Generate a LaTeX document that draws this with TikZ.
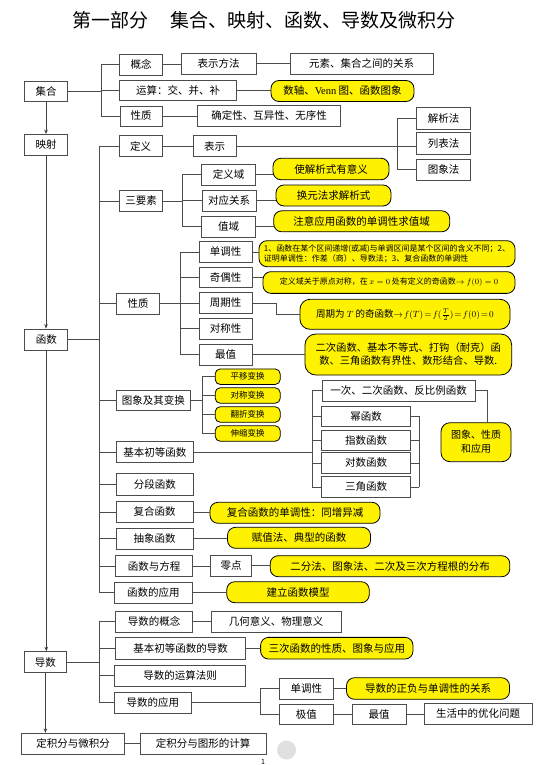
\documentclass[tikz,border=0pt]{standalone}
\usepackage{fontspec}
\setmainfont{Noto Sans CJK SC}
\newfontfamily\lat{Liberation Serif}
\usetikzlibrary{arrows.meta}
\begin{document}
\begin{tikzpicture}[x=1pt,y=-1pt,
  bx/.style={draw=black!70, line width=0.8pt, fill=white, inner sep=0pt, minimum height=21pt, font=\fontsize{10.5}{12}\selectfont},
  yb/.style={bx, draw=black, fill=yellow, rounded corners=8pt},
  ys/.style={bx, draw=black, fill=yellow, rounded corners=5pt, minimum height=15.5pt, minimum width=65pt, font=\fontsize{8.5}{10}\selectfont},
  ln/.style={draw=black!70, line width=0.7pt, line cap=rect},
  arr/.style={draw=black!75, line width=0.7pt, -{Stealth[length=4.5pt,width=3.5pt]}}]
\useasboundingbox (0,0) rectangle (553,765);
\node[font=\fontsize{19}{22}\selectfont, inner sep=0] (title) at (264,20) {第一部分\hspace{1.2em}集合、映射、函数、导数及微积分};

% ---- 集合
\node[bx, minimum width=43pt, minimum height=20pt] (jihe) at (46,91) {集合};
\node[bx, minimum width=43pt] (gainian) at (141,64.7) {概念};
\node[bx, minimum width=75pt] (bsff) at (218.5,63.7) {表示方法};
\node[bx, minimum width=143pt] (guanxi) at (361.5,63.7) {元素、集合之间的关系};
\node[bx, minimum width=117pt, minimum height=20pt] (yunsuan) at (178,90) {运算：交、并、补};
\node[yb, minimum width=143pt] (shuzhou) at (342.5,91) {数轴、{\lat Venn} 图、函数图象};
\node[bx, minimum width=42pt, minimum height=20pt] (xz1) at (141,116) {性质};
\node[bx, minimum width=143.5pt] (qdx) at (269,115.5) {确定性、互异性、无序性};

% ---- 映射 / 函数
\node[bx, minimum width=43pt] (yingshe) at (46,145) {映射};
\node[bx, minimum width=43pt] (dingyi) at (140.5,146.3) {定义};
\node[bx, minimum width=43pt] (biaoshi) at (214.5,146.3) {表示};
\node[bx, minimum width=54pt, minimum height=21.5pt] (jxf) at (443.5,118.2) {解析法};
\node[bx, minimum width=54pt, minimum height=21.5pt] (lbf) at (443.5,143.5) {列表法};
\node[bx, minimum width=54pt] (txf) at (443.5,169.7) {图象法};
\node[bx, minimum width=43pt, minimum height=20.5pt] (sys) at (141,201) {三要素};
\node[bx, minimum width=54pt] (dyy) at (228.5,174.7) {定义域};
\node[bx, minimum width=54pt] (dygx) at (229,200.5) {对应关系};
\node[bx, minimum width=54pt] (zy) at (228.5,226.7) {值域};
\node[yb, minimum width=116pt, minimum height=21.5pt] (n1) at (331,169) {使解析式有意义};
\node[yb, minimum width=115pt] (n2) at (333.5,195.5) {换元法求解析式};
\node[yb, minimum width=176pt] (n3) at (361.7,221.3) {注意应用函数的单调性求值域};

\node[bx, minimum width=43pt] (hanshu) at (46.3,339.5) {函数};
\node[bx, minimum width=42.6pt] (xz2) at (138,303.7) {性质};
\node[bx, minimum width=53pt] (ddx) at (225.7,252) {单调性};
\node[bx, minimum width=53pt, minimum height=20pt] (qox) at (225.7,277.5) {奇偶性};
\node[bx, minimum width=53pt] (zqx) at (225.7,303) {周期性};
\node[bx, minimum width=53pt] (dcx) at (225.7,328.7) {对称性};
\node[bx, minimum width=53pt] (zz) at (225.7,354.7) {最值};
\node[yb, minimum width=256pt, minimum height=26pt, align=left, font=\fontsize{8}{10}\selectfont] (m1) at (387,253.7) {1、函数在某个区间递增(或减)与单调区间是某个区间的含义不同；2、\\证明单调性：作差（商）、导数法；3、复合函数的单调性};
\node[yb, minimum width=252pt, minimum height=21.7pt, font=\fontsize{8}{10}\selectfont] (m2) at (389,282.5) {定义域关于原点对称，在 $x=0$ 处有定义的奇函数$\to f(0)=0$};
\node[yb, minimum width=210pt, minimum height=30pt, rounded corners=10pt, font=\fontsize{9.5}{12}\selectfont] (m3) at (405,314.3) {\thickmuskip=2mu\medmuskip=1mu周期为 $T$ 的奇函数$\to f(T)=f(\frac{T}{2})=f(0)=0$};
\node[yb, minimum width=206.7pt, minimum height=41pt, rounded corners=11pt, align=center, font=\fontsize{10.3}{13}\selectfont] (m4) at (408.3,354.5) {二次函数、基本不等式、打钩（耐克）函\\数、三角函数有界性、数形结合、导数.};

\node[bx, minimum width=74.5pt, minimum height=20.7pt] (txbh) at (153.3,400.3) {图象及其变换};
\node[ys] (py) at (247.7,376.7) {平移变换};
\node[ys] (dc) at (247.7,395.5) {对称变换};
\node[ys] (fz) at (247.7,414.5) {翻折变换};
\node[ys] (ss) at (247.7,433.5) {伸缩变换};
\node[bx, minimum width=77pt] (jbcd) at (154.8,452) {基本初等函数};
\node[bx, minimum width=153pt, minimum height=20.3pt] (yc) at (398.5,390.8) {一次、二次函数、反比例函数};
\node[bx, minimum width=88.7pt, minimum height=20.7pt] (mi) at (366,416.3) {幂函数};
\node[bx, minimum width=88.7pt, minimum height=20.7pt] (zs) at (366,440.3) {指数函数};
\node[bx, minimum width=88.7pt, minimum height=20.7pt] (ds) at (366,463) {对数函数};
\node[bx, minimum width=88.7pt, minimum height=20.7pt] (sj) at (366,487) {三角函数};
\node[yb, minimum width=70pt, minimum height=39pt, rounded corners=9pt, align=center, font=\fontsize{10}{14}\selectfont] (txxz) at (476,442.2) {图象、性质\\和应用};
\node[bx, minimum width=77pt, minimum height=21.5pt] (fd) at (154.8,484.2) {分段函数};
\node[bx, minimum width=77pt, minimum height=20.6pt] (fh) at (154.6,512) {复合函数};
\node[yb, minimum width=170pt] (fhn) at (295,512.8) {复合函数的单调性：同增异减};
\node[bx, minimum width=77pt, minimum height=20.7pt] (cx) at (154.6,538.7) {抽象函数};
\node[yb, minimum width=143pt] (fzf) at (299,537.8) {赋值法、典型的函数};
\node[bx, minimum width=77.4pt] (hsfc) at (154,566.2) {函数与方程};
\node[bx, minimum width=41.5pt] (ld) at (231,565.5) {零点};
\node[yb, minimum width=239.6pt] (efd) at (390,566.2) {二分法、图象法、二次及三次方程根的分布};
\node[bx, minimum width=78.4pt] (hsyy) at (153.4,592.8) {函数的应用};
\node[yb, minimum width=142.5pt] (jlmx) at (298,592.2) {建立函数模型};

% ---- 导数
\node[bx, minimum width=42.7pt] (daoshu) at (45.4,662.2) {导数};
\node[bx, minimum width=77.4pt, minimum height=21.3pt] (dsgn) at (154,621.7) {导数的概念};
\node[bx, minimum width=130pt, minimum height=21.3pt] (jhyy) at (276,621.7) {几何意义、物理意义};
\node[bx, minimum width=130.5pt, minimum height=21.3pt] (jbds) at (180.5,648.3) {基本初等函数的导数};
\node[yb, minimum width=152.4pt, minimum height=21.7pt] (sch) at (336.8,648.2) {三次函数的性质、图象与应用};
\node[bx, minimum width=131.5pt, minimum height=21.7pt] (ysfz) at (180,675.8) {导数的运算法则};
\node[bx, minimum width=77.3pt] (dsyy) at (152.8,702.8) {导数的应用};
\node[bx, minimum width=54pt] (ddx2) at (306.4,688.8) {单调性};
\node[yb, minimum width=163pt, minimum height=21.6pt] (zfgx) at (428,688.5) {导数的正负与单调性的关系};
\node[bx, minimum width=54pt, minimum height=20.3pt] (jz) at (306.4,714.2) {极值};
\node[bx, minimum width=54pt, minimum height=20.3pt] (zz2) at (379,714.2) {最值};
\node[bx, minimum width=108pt, minimum height=20.7pt] (shyh) at (478,713.7) {生活中的优化问题};
\node[bx, minimum width=103.5pt] (djf) at (73,743.8) {定积分与微积分};
\node[bx, minimum width=126pt] (djtx) at (203,743.8) {定积分与图形的计算};

\node[circle, fill=black!12, minimum size=19pt, inner sep=0pt] (dot) at (286.5,750) {};
\node[font=\fontsize{7}{8}\selectfont, inner sep=0pt, anchor=north] (pg) at (263,759.5) {1};

% ---- vertical arrows
\draw[arr] (jihe.south) -- (jihe.south |- yingshe.north);
\draw[arr] (yingshe.south) -- (yingshe.south |- hanshu.north);
\draw[arr] (hanshu.south) -- (hanshu.south |- daoshu.north);
\draw[arr] (daoshu.south) -- (daoshu.south |- djf.north);

% ---- brackets
\coordinate (xA) at (101,0);
\draw[ln] (jihe.east) -- (xA |- jihe.east);
\draw[ln] (xA |- gainian.west) -- (xA |- xz1.west);
\foreach \n in {gainian,yunsuan,xz1} \draw[ln] (\n.west) -- (xA |- \n.west);

\coordinate (xB) at (99.3,0);
\draw[ln] (hanshu.east) -- (xB |- hanshu.east);
\draw[ln] (xB |- dingyi.west) -- (xB |- hsyy.west);
\foreach \n in {dingyi,sys,xz2,txbh,jbcd,fd,fh,cx,hsfc,hsyy} \draw[ln] (\n.west) -- (xB |- \n.west);

\coordinate (xC) at (397.5,0);
\draw[ln] (biaoshi.east) -- (biaoshi.east -| lbf.west);
\draw[ln] (xC |- jxf.west) -- (xC |- txf.west);
\foreach \n in {jxf,txf} \draw[ln] (\n.west) -- (xC |- \n.west);

\coordinate (xD) at (182.6,0);
\draw[ln] (sys.east) -- (xD |- sys.east);
\draw[ln] (xD |- dyy.west) -- (xD |- zy.west);
\foreach \n in {dyy,dygx,zy} \draw[ln] (\n.west) -- (xD |- \n.west);

\coordinate (xE) at (180,0);
\draw[ln] (xz2.east) -- (xE |- xz2.east);
\draw[ln] (xE |- ddx.west) -- (xE |- zz.west);
\foreach \n in {ddx,qox,zqx,dcx,zz} \draw[ln] (\n.west) -- (xE |- \n.west);

\coordinate (xF) at (202.3,0);
\draw[ln] (txbh.east) -- (xF |- txbh.east);
\draw[ln] (xF |- py.west) -- (xF |- ss.west);
\foreach \n in {py,dc,fz,ss} \draw[ln] (\n.west) -- (xF |- \n.west);

\coordinate (xG) at (312.8,0);
\draw[ln] (jbcd.east) -- (xG |- jbcd.east);
\draw[ln] (xG |- yc.west) -- (xG |- sj.west);
\foreach \n in {yc,mi,zs,ds,sj} \draw[ln] (\n.west) -- (xG |- \n.west);

\coordinate (xH) at (419,0);
\draw[ln] (xH |- mi.east) -- (xH |- sj.east);
\foreach \n in {mi,zs,ds,sj} \draw[ln] (\n.east) -- (xH |- \n.east);

\coordinate (xK) at (487,0);
\draw[ln] (yc.east) -- (xK |- yc.east) -- (xK |- txxz.north);

\coordinate (xI) at (99.3,0);
\draw[ln] (daoshu.east) -- (xI |- daoshu.east);
\draw[ln] (xI |- dsgn.west) -- (xI |- dsyy.west);
\foreach \n in {dsgn,jbds,ysfz,dsyy} \draw[ln] (\n.west) -- (xI |- \n.west);

\coordinate (xJ) at (260.6,0);
\draw[ln] (dsyy.east) -- (xJ |- dsyy.east);
\draw[ln] (xJ |- ddx2.west) -- (xJ |- jz.west);
\foreach \n in {ddx2,jz} \draw[ln] (\n.west) -- (xJ |- \n.west);

% ---- simple links
\draw[ln] (gainian.east) -- (gainian.east -| bsff.west);
\draw[ln] (bsff.east) -- (bsff.east -| guanxi.west);
\draw[ln] (yunsuan.east) -- (yunsuan.east -| shuzhou.west);
\draw[ln] (xz1.east) -- (xz1.east -| qdx.west);
\draw[ln] (dingyi.east) -- (dingyi.east -| biaoshi.west);
\draw[ln] (dyy.east) -- (dyy.east -| n1.west);
\draw[ln] (dygx.east) -- (dygx.east -| n2.west);
\draw[ln] (zy.east) -- (zy.east -| n3.west);
\draw[ln] (ddx.east) -- (ddx.east -| m1.west);
\draw[ln] (qox.east) -- (qox.east -| m2.west);
\coordinate (zqk) at (276.7,0);
\draw[ln] (zqx.east) -- (zqk |- zqx.east) -- (zqk |- m3.west) -- (m3.west);
\draw[ln] (zz.east) -- (zz.east -| m4.west);
\draw[ln] (fh.east) -- (fh.east -| fhn.west);
\draw[ln] (cx.east) -- (cx.east -| fzf.west);
\draw[ln] (hsfc.east) -- (hsfc.east -| ld.west);
\draw[ln] (ld.east) -- (ld.east -| efd.west);
\draw[ln] (hsyy.east) -- (hsyy.east -| jlmx.west);
\draw[ln] (dsgn.east) -- (dsgn.east -| jhyy.west);
\draw[ln] (jbds.east) -- (jbds.east -| sch.west);
\draw[ln] (ddx2.east) -- (ddx2.east -| zfgx.west);
\draw[ln] (jz.east) -- (jz.east -| zz2.west);
\draw[ln] (zz2.east) -- (zz2.east -| shyh.west);
\draw[ln] (djf.east) -- (djf.east -| djtx.west);
\end{tikzpicture}
\end{document}
